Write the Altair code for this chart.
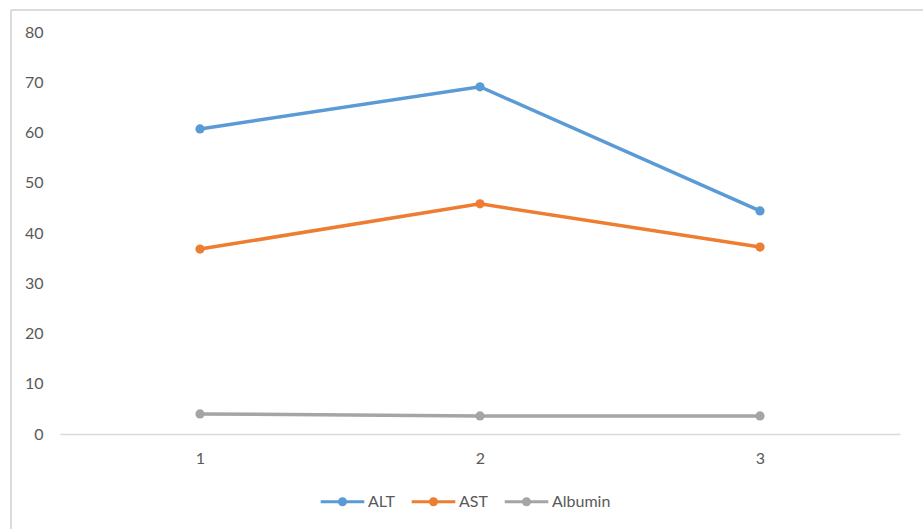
import altair as alt
import pandas as pd

# Liver panel values per visit
visits = ["1", "2", "3"]
alt_vals = [60.7, 69.1, 44.4]
ast_vals = [36.8, 45.8, 37.2]
albumin_vals = [4.0, 3.6, 3.6]

series_names = ["ALT", "AST", "Albumin"]
series_colors = ["#5B9BD5", "#ED7D31", "#A5A5A5"]

rows = []
for name, vals in zip(series_names, [alt_vals, ast_vals, albumin_vals]):
    for v, y in zip(visits, vals):
        rows.append({"visit": v, "series": name, "value": y})
df = pd.DataFrame(rows)

FONT = "Lato"
TEXT = "#595959"

# legend glyph: a line with a dot in the middle
glyph = ("M-1,0L1,0M0.14,0A0.14,0.14,0,1,1,-0.14,0"
         "A0.14,0.14,0,1,1,0.14,0Z")

color = alt.Color(
    "series:N",
    scale=alt.Scale(domain=series_names, range=series_colors),
    sort=series_names,
    legend=alt.Legend(
        title=None,
        orient="none",
        direction="horizontal",
        legendX=259,
        legendY=446,
        symbolType=glyph,
        symbolSize=1900,
        symbolStrokeWidth=3,
        symbolOffset=0,
        labelFont=FONT,
        labelFontSize=16,
        labelColor=TEXT,
        labelOffset=2,
        columnPadding=10,
    ),
)

x = alt.X(
    "visit:O",
    sort=visits,
    title=None,
    scale=alt.Scale(padding=0.5),
    axis=alt.Axis(
        labelAngle=0,
        domainColor="#D9D9D9",
        domainWidth=1.5,
        ticks=False,
        labelPadding=16,
        labelFont=FONT,
        labelFontSize=16,
        labelColor=TEXT,
    ),
)
y = alt.Y(
    "value:Q",
    title=None,
    scale=alt.Scale(domain=[0, 80], nice=False),
    axis=alt.Axis(
        values=list(range(0, 81, 10)),
        domain=False,
        ticks=False,
        grid=False,
        labelPadding=17,
        labelFont=FONT,
        labelFontSize=16,
        labelColor=TEXT,
    ),
)

base = alt.Chart(df)
lines = base.mark_line(strokeWidth=3.5).encode(x=x, y=y, color=color)
dots = base.mark_point(filled=True, size=85, opacity=1, shape="circle").encode(
    x=x, y=y, color=color
)

# chart-area border along the top and left edges
frame_top = alt.Chart(pd.DataFrame({"k": [0]})).mark_rule(
    color="#D0D0D0", strokeWidth=1.5
).encode(x=alt.value(-49), x2=alt.value(863), y=alt.value(-22))
frame_left = alt.Chart(pd.DataFrame({"k": [0]})).mark_rule(
    color="#D0D0D0", strokeWidth=1.5
).encode(x=alt.value(-49), y=alt.value(-22), y2=alt.value(497))

chart = (
    alt.layer(frame_top, frame_left, lines, dots)
    .properties(
        width=840,
        height=402,
        autosize=alt.AutoSizeParams(type="none"),
        padding={"left": 60, "top": 32, "right": 23, "bottom": 95},
        background="white",
    )
    .configure_view(stroke=None)
)

chart.save("out.html", embed_options={"renderer": "svg", "actions": False})
